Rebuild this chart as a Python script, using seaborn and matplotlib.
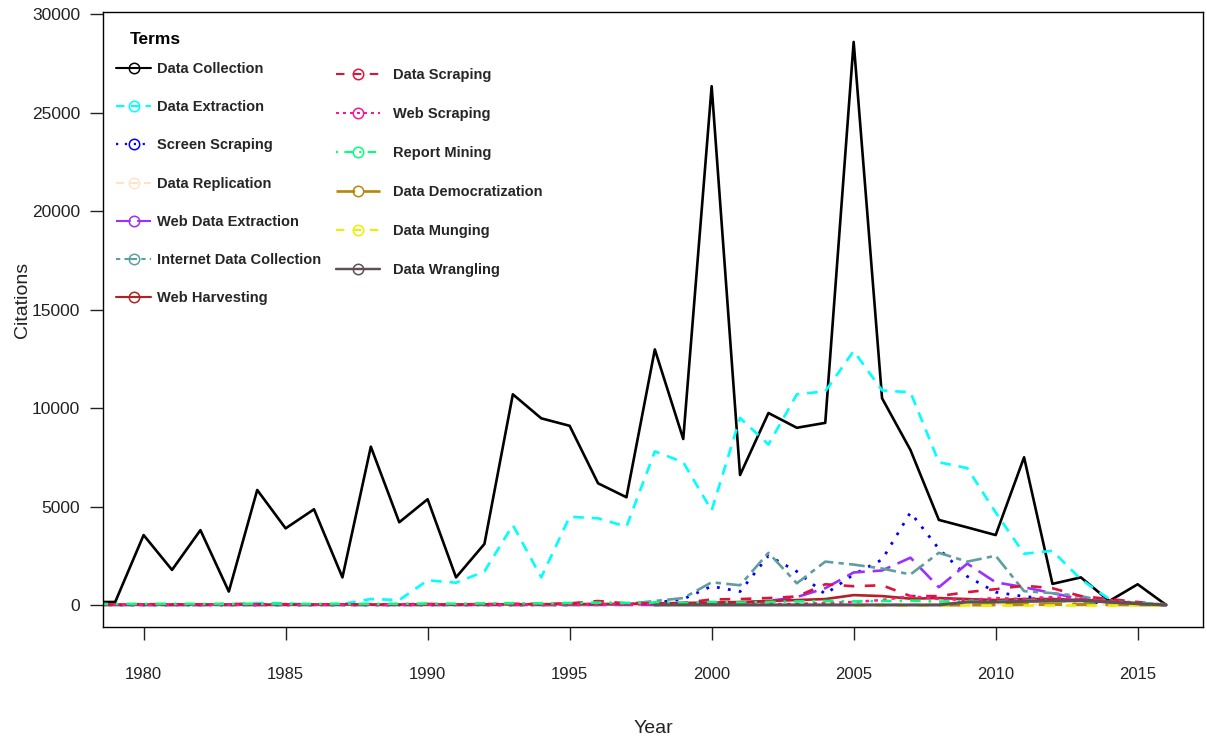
import numpy as np
import pandas as pd
import matplotlib
matplotlib.use("Agg")
import matplotlib.pyplot as plt
import seaborn as sns
from matplotlib.lines import Line2D
from matplotlib import font_manager as fm

nan = np.nan
years = list(range(1978, 2017))

terms = ["Data Collection", "Data Extraction", "Screen Scraping", "Data Replication",
         "Web Data Extraction", "Internet Data Collection", "Web Harvesting",
         "Data Scraping", "Web Scraping", "Report Mining", "Data Democratization",
         "Data Munging", "Data Wrangling"]

data_collection = [150, 150, 3550, 1780, 3800, 680, 5840, 3890, 4860, 1400, 8040, 4200, 5370,
                   1400, 3100, 10700, 9480, 9100, 6180, 5470, 12980, 8430, 26350, 6600, 9750,
                   9000, 9250, 28600, 10500, 7870, 4320, 3940, 3550, 7500, 1070, 1400, 200, 1050, 0]
data_extraction = [0, 0, 0, 0, 0, 30, 100, 80, 20, 50, 300, 250, 1250, 1130, 1700, 4060, 1400,
                   4480, 4400, 3980, 7800, 7250, 4800, 9500, 8150, 10700, 10850, 12900, 10900,
                   10800, 7250, 6950, 4700, 2600, 2750, 1300, 300, 50, 0]
screen_scraping = [0] * 18 + [50, 30, 100, 300, 950, 680, 2500, 1700, 550, 1550, 2300, 4700,
                              2850, 1450, 650, 430, 300, 200, 60, 20, 0]
data_replication = [0] * 22 + [20, 30, 40, 50, 60, 50, 40, 50, 40, 30, 40, 30, 20, 20, 10, 10, 0]
web_data_extraction = [0] * 21 + [30, 50, 100, 200, 400, 850, 1650, 1750, 2400, 900, 2100,
                                  1150, 900, 600, 300, 100, 50, 0]
internet_data_collection = [0] * 19 + [50, 200, 350, 1150, 1000, 2650, 1100, 2200, 2050, 1850,
                                       1550, 2650, 2200, 2500, 700, 600, 450, 150, 50, 0]
web_harvesting = [10, 10, 20, 10, 20, 20, 10, 20, 20, 30, 20, 20, 30, 20, 30, 30, 40, 40,
                  50, 50, 80, 100, 120, 150, 200, 250, 300, 500, 450, 320, 350, 300, 250,
                  300, 300, 250, 180, 100, 0]
data_scraping = [30, 20, 40, 30, 20, 50, 30, 40, 20, 30, 40, 30, 50, 30, 40, 60, 50, 80, 200,
                 80, 50, 100, 280, 300, 350, 430, 1050, 950, 1000, 450, 450, 650, 800, 980,
                 850, 450, 300, 150, 0]
web_scraping = [0, 10, 0, 10, 0, 10, 0, 10, 0, 10, 10, 0, 10, 10, 20, 10, 20, 20, 30, 20, 30,
                20, 30, 30, 40, 50, 100, 150, 250, 450, 300, 250, 350, 300, 400, 300, 250, 100, 0]
report_mining = [60, 50, 50, 60, 50, 50, 60, 50, 50, 60, 50, 60, 70, 60, 80, 90, 80, 100, 120,
                 100, 120, 100, 150, 120, 150, 180, 200, 180, 200, 220, 170, 200, 180, 220,
                 200, 180, 150, 100, 50]
data_democratization = [nan] * 30 + [0, 0, 10, 20, 30, 20, 20, 10, 0]
data_munging = [nan] * 27 + [0] * 12
data_wrangling = [nan] * 20 + [0] * 11 + [150, 150, 180, 200, 220, 150, 60, 0]

series = [data_collection, data_extraction, screen_scraping, data_replication,
          web_data_extraction, internet_data_collection, web_harvesting, data_scraping,
          web_scraping, report_mining, data_democratization, data_munging, data_wrangling]

colors = ["#000000", "#00FFFF", "#0000FF", "#FFE4C4", "#9B30FF", "#5F9EA0", "#B22222",
          "#DC143C", "#FF1493", "#00FF7F", "#B8860B", "#EEEE00", "#5E5055"]
styles = ["-", (0, (4, 3)), (0, (1, 3)), (0, (4, 3)), (0, (7, 3)), (0, (2, 2, 6, 2)), "-",
          (0, (4, 4)), (0, (1.5, 2)), (0, (1, 3, 4, 3)), (0, (7, 3)), (0, (4, 4)), "-"]
widths = [1.9, 1.9, 2.0, 1.8, 1.9, 1.9, 1.9, 1.9, 1.8, 1.9, 2.4, 1.9, 2.2]

sns.set_style("white")
avail = {f.name for f in fm.fontManager.ttflist}
base_font = "Liberation Sans" if "Liberation Sans" in avail else "DejaVu Sans"
leg_family = "Liberation Sans Narrow" if "Liberation Sans Narrow" in avail else base_font
plt.rcParams["font.family"] = [base_font, "DejaVu Sans"]

W, H = 1207, 742
fig = plt.figure(figsize=(W / 100, H / 100), dpi=100)
ax = fig.add_axes([103 / W, 1 - 627 / H, 1100 / W, 615 / H])

for term, vals, c, ls, lw in zip(terms, series, colors, styles, widths):
    sns.lineplot(x=years, y=vals, ax=ax, color=c, linestyle=ls, linewidth=lw,
                 errorbar=None, legend=False)

ax.set_xlim(1978.57, 2017.3)
ax.set_ylim(-1120, 30120)
ax.set_xticks([1980, 1985, 1990, 1995, 2000, 2005, 2010, 2015])
ax.set_yticks([0, 5000, 10000, 15000, 20000, 25000, 30000])
ax.set_yticklabels([str(v) for v in [0, 5000, 10000, 15000, 20000, 25000, 30000]])
ax.tick_params(axis="both", which="major", bottom=True, left=True, top=False, right=False,
               direction="out", length=9.5, width=1.0, color="#222222",
               labelcolor="#222222")
ax.tick_params(axis="x", labelsize=12, pad=19)
ax.tick_params(axis="y", labelsize=12.5, pad=7)
for sp in ax.spines.values():
    sp.set_visible(True)
    sp.set_color("black")
    sp.set_linewidth(1.0)

ax.set_xlabel("Year", fontsize=14, color="#222222", labelpad=28)
ax.set_ylabel("Citations", fontsize=14, color="#222222", labelpad=4)
ax.yaxis.set_label_coords(-72 / 1100, 0.532)

def make_handle(c, ls, lw):
    return Line2D([], [], color=c, linestyle=ls, linewidth=lw * 0.8, marker="o",
                  markersize=7.5, markerfacecolor="none", markeredgecolor=c,
                  markeredgewidth=1.1)

handles = [make_handle(c, ls, lw) for c, ls, lw in zip(colors, styles, widths)]
leg_prop = {"family": leg_family, "weight": "bold", "size": 10.5}

fig.text(130 / W, 1 - 40 / H, "Terms", ha="left", va="center", fontsize=12.5,
         fontweight="bold", family=leg_family, color="black")

leg1 = ax.legend(handles[:7], terms[:7], loc="upper left",
                 bbox_to_anchor=(116 / W, 1 - 62 / H), bbox_transform=fig.transFigure,
                 frameon=False, borderpad=0,
                 borderaxespad=0, handlelength=2.4, handletextpad=0.4, labelspacing=1.66,
                 prop=leg_prop)
ax.add_artist(leg1)
leg2 = ax.legend(handles[7:], terms[7:], loc="upper left",
                 bbox_to_anchor=(336 / W, 1 - 68 / H), bbox_transform=fig.transFigure,
                 frameon=False, borderpad=0, borderaxespad=0, handlelength=3.0,
                 handletextpad=0.9, labelspacing=1.72, prop=leg_prop)

fig.savefig("out.png", dpi=100)
